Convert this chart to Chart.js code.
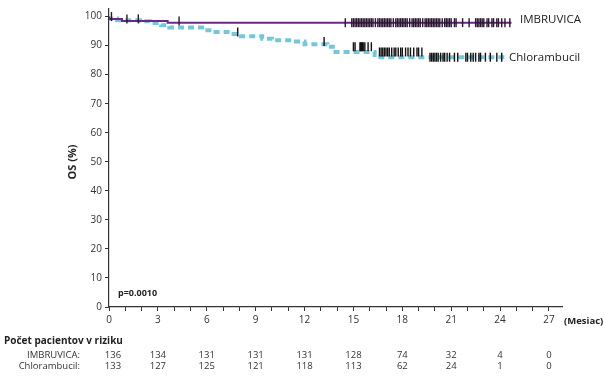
<!DOCTYPE html>
<html>
<head>
<meta charset="utf-8">
<script src="https://cdn.jsdelivr.net/npm/chart.js@4/dist/chart.umd.min.js"></script>
<style>
  html, body { margin: 0; padding: 0; background: #fff; }
</style>
</head>
<body>
<canvas id="myChart" width="605" height="377"></canvas>
<script>
// Krivky prežitia (Kaplan-Meier), odčítané z obrázka
const imbTimes = [0, 0.8, 3.6, 5.2, 24.7];
const imbSurv  = [100, 99.2, 98.5, 97.9, 97.9];
const chlTimes = [0, 0.5, 1.9, 2.5, 3.2, 3.7, 5.9, 6.4, 7.5, 8.1, 9.4, 10.0, 11.3, 12.0, 13.4, 13.9, 16.3, 19.3, 24.3];
const chlSurv  = [100, 99.3, 98.7, 98.4, 97.8, 97.0, 96.2, 95.3, 94.7, 94.0, 93.2, 92.4, 91.8, 91.4, 90.5, 89.6, 87.8, 86.0, 86.0];

// Cenzurované pozorovania (mesiace)
const imbCensor = [0.15, 1.1, 1.8, 4.3, 14.5, 14.9, 15.0, 15.1, 15.2, 15.3, 15.4, 15.5, 15.6, 15.7, 15.8, 15.9,
  16.0, 16.1, 16.2, 16.35, 16.5, 16.6, 16.7, 16.8, 16.9, 17.0, 17.1, 17.2, 17.3, 17.45, 17.6, 17.7, 17.8, 17.9,
  18.0, 18.1, 18.2, 18.3, 18.45, 18.6, 18.7, 18.8, 18.9, 19.0, 19.1, 19.25, 19.4, 19.5, 19.6, 19.7, 19.8, 19.9,
  20.0, 20.1, 20.2, 20.3, 20.45, 20.6, 20.7, 20.8, 20.9, 21.0, 21.2, 21.3, 21.7, 22.1, 22.5, 22.6, 22.7, 22.8,
  22.9, 23.0, 23.2, 23.3, 23.5, 23.6, 23.8, 23.9, 24.1, 24.3, 24.6];
const chlCensor = [7.9, 13.2, 15.0, 15.1, 15.4, 15.45, 15.5, 15.55, 15.6, 15.7, 15.9, 16.1, 16.6, 16.7, 16.8,
  16.9, 17.0, 17.1, 17.2, 17.35, 17.5, 17.6, 17.75, 17.9, 18.0, 18.2, 18.35, 18.5, 18.7, 18.9, 19.0, 19.2,
  19.7, 19.8, 19.9, 20.0, 20.1, 20.2, 20.35, 20.5, 20.6, 20.75, 20.9, 21.2, 21.4, 21.9, 22.0, 22.2, 22.35,
  22.5, 22.7, 22.8, 23.1, 23.4, 23.8, 24.1];

// Tabuľka pacientov v riziku
const riskMonths = [0, 3, 6, 9, 12, 15, 18, 21, 24, 27];
const riskImb = [136, 134, 131, 131, 131, 128, 74, 32, 4, 0];
const riskChl = [133, 127, 125, 121, 118, 113, 62, 24, 1, 0];

const purple = '#6a2a84';
const blue = '#74c7da';

// hodnota krivky v danom čase
function survAt(times, surv, t) {
  let v = surv[0];
  for (let i = 0; i < times.length; i++) {
    if (times[i] <= t) v = surv[i];
  }
  return v;
}

const toPts = (xs, ys) => xs.map((x, i) => ({ x: x, y: ys[i] }));

const textPlugin = {
  id: 'texts',
  afterDraw(chart) {
    const ctx = chart.ctx;
    const xs = chart.scales.x;
    ctx.save();
    ctx.fillStyle = '#222';
    ctx.textBaseline = 'middle';

    // názov osi y
    ctx.save();
    ctx.translate(73, 162);
    ctx.rotate(-Math.PI / 2);
    ctx.textAlign = 'center';
    ctx.font = 'bold 11px "Open Sans"';
    ctx.fillText('OS (%)', 0, 0);
    ctx.restore();

    ctx.textAlign = 'left';
    ctx.font = '11.5px "Open Sans"';
    ctx.fillText('IMBRUVICA', 520, 20);
    ctx.fillText('Chlorambucil', 509, 58);

    ctx.font = 'bold 9px "Open Sans"';
    ctx.fillText('p=0.0010', 118, 293);

    ctx.font = 'bold 9.5px "Open Sans"';
    ctx.fillText('(Mesiac)', 564, 321);

    ctx.font = 'bold 10px "Open Sans"';
    ctx.fillText('Počet pacientov v riziku', 4, 341);

    ctx.font = '9.5px "Open Sans"';
    ctx.fillStyle = '#333';
    ctx.textAlign = 'right';
    ctx.fillText('IMBRUVICA:', 80, 355);
    ctx.fillText('Chlorambucil:', 80, 366);

    ctx.textAlign = 'center';
    riskMonths.forEach((m, i) => {
      const px = xs.getPixelForValue(m) + (i === 0 ? 4 : 0);
      ctx.fillText(String(riskImb[i]), px, 355);
      ctx.fillText(String(riskChl[i]), px, 366);
    });
    ctx.restore();
  }
};

const ctx = document.getElementById('myChart').getContext('2d');
new Chart(ctx, {
  type: 'line',
  data: {
    datasets: [
      {
        label: 'IMBRUVICA cenzúra',
        data: imbCensor.map(t => ({ x: t, y: survAt(imbTimes, imbSurv, t) })),
        showLine: false,
        pointStyle: 'line',
        rotation: 90,
        pointRadius: 4.5,
        pointBorderWidth: 1.4,
        pointBorderColor: '#2a1630',
        order: 0
      },
      {
        label: 'Chlorambucil cenzúra',
        data: chlCensor.map(t => ({ x: t, y: survAt(chlTimes, chlSurv, t) })),
        showLine: false,
        pointStyle: 'line',
        rotation: 90,
        pointRadius: 4.5,
        pointBorderWidth: 1.4,
        pointBorderColor: '#111',
        order: 0
      },
      {
        label: 'IMBRUVICA',
        data: toPts(imbTimes, imbSurv),
        stepped: 'after',
        borderColor: purple,
        borderWidth: 2,
        pointRadius: 0,
        order: 1
      },
      {
        label: 'Chlorambucil',
        data: toPts(chlTimes, chlSurv),
        stepped: 'after',
        borderColor: blue,
        borderWidth: 4,
        borderDash: [6, 4],
        pointRadius: 0,
        order: 2
      }
    ]
  },
  options: {
    responsive: false,
    animation: false,
    layout: { padding: { top: 7, right: 43, left: 0, bottom: 0 } },
    plugins: { legend: { display: false }, tooltip: { enabled: false } },
    scales: {
      x: {
        type: 'linear',
        min: 0,
        max: 27.8,
        afterBuildTicks(scale) {
          scale.ticks = scale.ticks.filter(t => Number.isInteger(t.value) && t.value <= 27);
        },
        afterFit(scale) { scale.height = 70; },
        ticks: {
          stepSize: 1,
          includeBounds: false,
          autoSkip: false,
          maxRotation: 0,
          color: '#333',
          font: { family: '"Open Sans"', size: 10 },
          callback: v => (v % 3 === 0 ? v : '')
        },
        grid: { drawOnChartArea: false, tickLength: 4, color: '#333', lineWidth: 1 },
        border: { color: '#333', width: 1.2 }
      },
      y: {
        min: 0,
        max: 102.6,
        afterBuildTicks(scale) {
          scale.ticks = scale.ticks.filter(t => t.value % 10 === 0 && t.value <= 100);
        },
        afterFit(scale) { scale.width = 109; },
        ticks: {
          stepSize: 10,
          includeBounds: false,
          autoSkip: false,
          color: '#333',
          font: { family: '"Open Sans"', size: 10 }
        },
        grid: { drawOnChartArea: false, tickLength: 4, color: '#333', lineWidth: 1 },
        border: { color: '#333', width: 1.2 }
      }
    }
  },
  plugins: [textPlugin]
});
</script>
</body>
</html>
